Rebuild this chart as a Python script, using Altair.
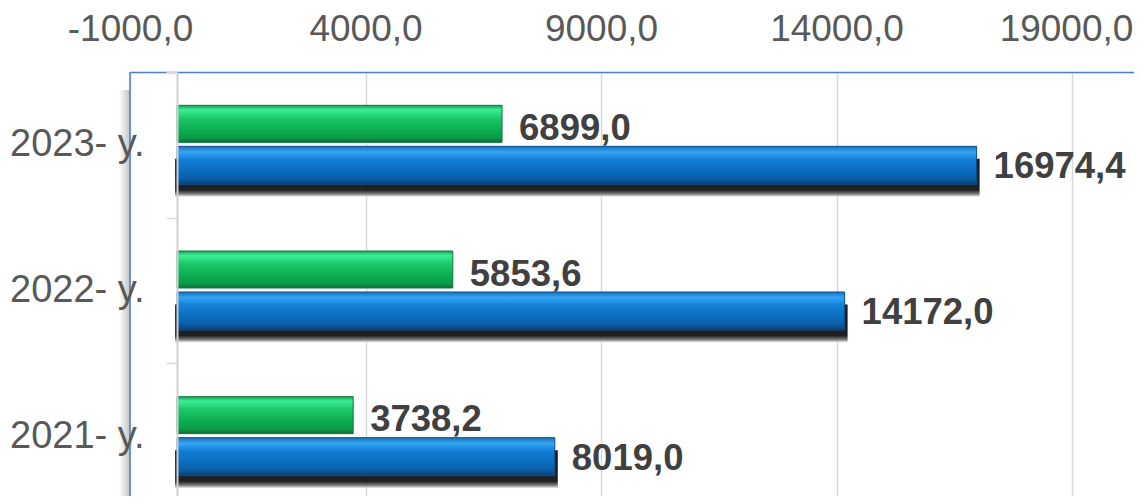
import altair as alt
import pandas as pd

# ---- data ----
years = ["2023- y.", "2022- y.", "2021- y."]
green_values = [6899.0, 5853.6, 3738.2]
blue_values = [16974.4, 14172.0, 8019.0]
x_ticks = [-1000, 4000, 9000, 14000, 19000]
x_domain = [-1000, 20316]

rows = []
for y, g, b in zip(years, green_values, blue_values):
    rows.append({"year": y, "series": "green", "value": g})
    rows.append({"year": y, "series": "blue", "value": b})
df = pd.DataFrame(rows)

W, H = 1004, 424
FONT = "Liberation Sans"
fmt = "replace(replace(format(datum.value, '.1f'), '.', ','), '\u2212', '-')"

green_grad = {
    "gradient": "linear", "x1": 0, "y1": 0, "x2": 0, "y2": 1,
    "stops": [
        {"offset": 0.0, "color": "#1A9E55"},
        {"offset": 0.12, "color": "#3BEE95"},
        {"offset": 0.35, "color": "#1CC868"},
        {"offset": 0.65, "color": "#0DAE52"},
        {"offset": 0.88, "color": "#0B9A48"},
        {"offset": 1.0, "color": "#0A6E35"},
    ],
}
blue_grad = {
    "gradient": "linear", "x1": 0, "y1": 0, "x2": 0, "y2": 1,
    "stops": [
        {"offset": 0.0, "color": "#1B6FB8"},
        {"offset": 0.15, "color": "#34A6F5"},
        {"offset": 0.35, "color": "#137FD6"},
        {"offset": 0.65, "color": "#0A6DBE"},
        {"offset": 0.85, "color": "#0B5EA6"},
        {"offset": 1.0, "color": "#0A3F72"},
    ],
}
shadow_grad = {
    "gradient": "linear", "x1": 0, "y1": 0, "x2": 0, "y2": 1,
    "stops": [
        {"offset": 0.0, "color": "#000000"},
        {"offset": 0.82, "color": "#080808"},
        {"offset": 0.92, "color": "#6A6A6A"},
        {"offset": 1.0, "color": "#F0F0F0"},
    ],
}
frame_shadow = {
    "gradient": "linear", "x1": 0, "y1": 0, "x2": 1, "y2": 0,
    "stops": [
        {"offset": 0.0, "color": "#FFFFFF"},
        {"offset": 1.0, "color": "#A8A8A8"},
    ],
}

x_enc = alt.X(
    "value:Q",
    scale=alt.Scale(domain=x_domain, nice=False, zero=False),
    axis=alt.Axis(
        orient="top", values=x_ticks, labelExpr=fmt, labelFontSize=37,
        labelFont=FONT, labelColor="#595959", labelPadding=24, ticks=False,
        domainColor="#4A7EC7", domainWidth=1.5, gridColor="#D9D9D9",
        gridWidth=1.5, title=None, labelFlush=False, labelOverlap=False,
        labelOffset={"expr": "datum.value == 19000 ? -6 : 0"},
    ),
)
y_enc = alt.Y(
    "year:N", sort=years,
    scale=alt.Scale(range=[0, 437], paddingInner=0, paddingOuter=0),
    axis=alt.Axis(
        offset=-47, domainColor="#D0D0D0", domainWidth=2, tickBand="extent",
        tickSize=11, tickColor="#D9D9D9", tickWidth=1.5, labelPadding=22,
        labelFontSize=38, labelColor="#595959", labelFont=FONT, title=None,
        grid=False, zindex=1,
    ),
)

base = alt.Chart(df)

frame_sh = alt.Chart(pd.DataFrame({"v": [x_domain[0]]})).mark_rect(
    color=frame_shadow, xOffset=-11, opacity=0.7
).encode(x="v:Q", x2=alt.X2("v"), y=alt.value(18), y2=alt.value(H))

shadow = base.transform_filter("datum.series == 'blue'").mark_bar(
    color=shadow_grad, height=38, yOffset=33, xOffset=3, x2Offset=-2, opacity=0.9
).encode(x=x_enc, x2=alt.datum(0), y=y_enc)

green = base.transform_filter("datum.series == 'green'").mark_bar(
    color=green_grad, height=37, yOffset=-21, stroke="#0B7A3C", strokeWidth=1
).encode(x=x_enc, x2=alt.datum(0), y=y_enc)

blue = base.transform_filter("datum.series == 'blue'").mark_bar(
    color=blue_grad, height=38, yOffset=20.5, stroke="#0A4F8F", strokeWidth=1
).encode(x=x_enc, x2=alt.datum(0), y=y_enc)

txt_style = dict(align="left", baseline="middle", fontSize=36.5,
                 fontWeight="bold", color="#404040", font=FONT, dx=17)

green_txt = base.transform_filter("datum.series == 'green'").transform_calculate(
    label=fmt
).mark_text(yOffset=-21, dy=5, **txt_style).encode(x=x_enc, y=y_enc, text="label:N")

blue_txt = base.transform_filter("datum.series == 'blue'").transform_calculate(
    label=fmt
).mark_text(yOffset=20.5, dy=2, **txt_style).encode(x=x_enc, y=y_enc, text="label:N")

border = alt.Chart(pd.DataFrame({"v": [x_domain[0]]})).mark_rule(
    color="#4A7EC7", strokeWidth=1.5
).encode(x="v:Q")

chart = alt.layer(
    frame_sh, shadow, green, blue, green_txt, blue_txt, border
).properties(
    width=W, height=H,
    autosize=alt.AutoSizeParams(type="none"),
    padding={"left": 122, "top": 64, "right": 0, "bottom": 0},
).configure_view(stroke=None)

chart.save("out.html", embed_options={"renderer": "svg", "actions": False})
